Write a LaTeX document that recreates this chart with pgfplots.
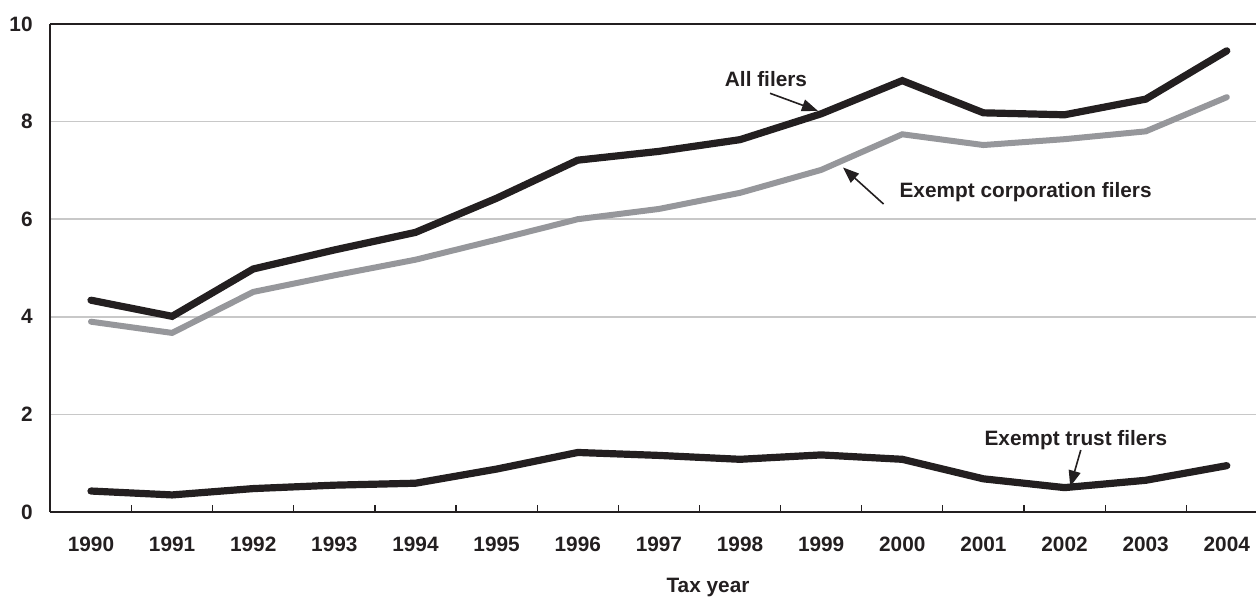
\documentclass[border=0pt]{standalone}
\usepackage{fontspec}
\setmainfont{Liberation Sans}
\usepackage{pgfplots}
\pgfplotsset{compat=1.18}
\usetikzlibrary{arrows.meta}
\definecolor{dk}{RGB}{35,31,32}
\definecolor{gr}{RGB}{150,151,155}
\definecolor{gridc}{RGB}{200,200,200}
\begin{document}
\begin{tikzpicture}
\begin{axis}[
  scale only axis, width=603pt, height=244pt,
  xmin=-0.505, xmax=14.36, ymin=0, ymax=10,
  axis lines*=left,
  axis line style={dk, line width=1pt},
  clip=false,
  ytick={0,2,4,6,8,10},
  yticklabels={0,2,4,6,8,10},
  ytick style={draw=none},
  ymajorgrids, grid style={gridc, line width=0.8pt},
  xtick={0.5,1.5,...,13.5},
  xticklabels={},
  xtick style={dk, line width=0.6pt},
  major tick length=3.5pt,
  tick align=inside,
  extra x ticks={0,1,2,3,4,5,6,7,8,9,10,11,12,13,14},
  extra x tick labels={1990,1991,1992,1993,1994,1995,1996,1997,1998,1999,2000,2001,2002,2003,2004},
  extra x tick style={major tick length=0pt, grid=none},
  tick label style={font=\fontsize{10.4}{12}\selectfont\bfseries, text=dk},
  xticklabel style={inner sep=0pt, yshift=-12.3pt},
  yticklabel style={inner sep=0pt, xshift=-8.5pt},
]
\addplot[gr, line width=3pt, line cap=round] coordinates {
 (0,3.90) (1,3.67) (2,4.51) (3,4.85) (4,5.17) (5,5.58) (6,6.00) (7,6.21)
 (8,6.54) (9,7.01) (10,7.74) (11,7.52) (12,7.64) (13,7.80) (14,8.50)};
\addplot[dk, line width=3.6pt, line cap=round] coordinates {
 (0,4.34) (1,4.01) (2,4.98) (3,5.37) (4,5.73) (5,6.43) (6,7.21) (7,7.39)
 (8,7.63) (9,8.16) (10,8.84) (11,8.18) (12,8.14) (13,8.46) (14,9.45)};
\addplot[dk, line width=3.6pt, line cap=round] coordinates {
 (0,0.43) (1,0.35) (2,0.48) (3,0.55) (4,0.59) (5,0.88) (6,1.22) (7,1.16)
 (8,1.08) (9,1.17) (10,1.08) (11,0.68) (12,0.50) (13,0.65) (14,0.95)};
\draw[dk, line width=1pt] (rel axis cs:0,1) -- (rel axis cs:1,1);
\coordinate (bl) at (rel axis cs:0,0);
\coordinate (tr) at (rel axis cs:1,1);
\tikzset{lab/.style={font=\fontsize{10.4}{12}\selectfont\bfseries, text=dk, inner sep=0pt},
  arr/.style={dk, line width=0.8pt, -{Triangle[length=8pt,width=6pt]}}}
\node[lab] at (axis cs:8.32,8.88) {All filers};
\draw[arr] (axis cs:8.37,8.58) -- (axis cs:8.96,8.22);
\node[lab] at (axis cs:11.52,6.55) {Exempt corporation filers};
\draw[arr] (axis cs:9.77,6.31) -- (axis cs:9.27,7.06);
\node[lab] at (axis cs:12.14,1.48) {Exempt trust filers};
\draw[arr] (axis cs:12.20,1.27) -- (axis cs:12.07,0.52);
\node[lab, anchor=base] at ([yshift=-40.3pt]axis description cs:0.5456,0) {Tax year};
\end{axis}
\pgfresetboundingbox
\path ([xshift=-25pt,yshift=-42pt]bl) rectangle ([yshift=12pt]tr);
\end{tikzpicture}
\end{document}
